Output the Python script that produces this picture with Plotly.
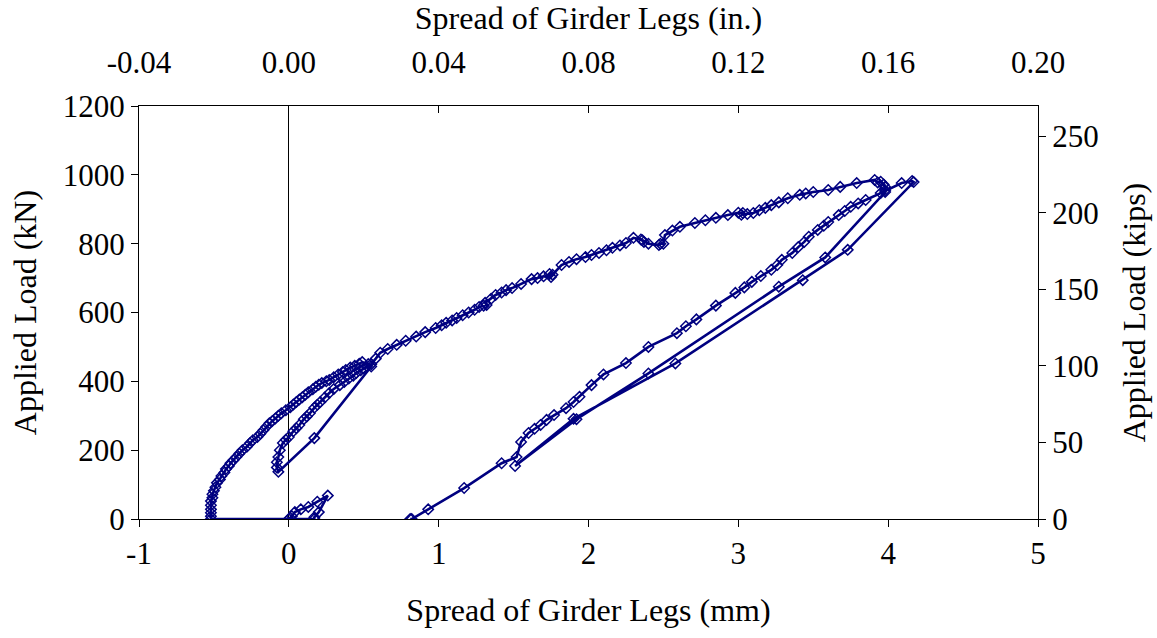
import plotly.graph_objects as go

# Spread of girder legs (mm) and applied load (kN), in test order
spread_mm = [
    0.00, 0.02, 0.04, 0.08, 0.13, 0.19, 0.26, 0.20, 0.17, 0.17, 0.00,
    -0.52, -0.52, -0.52, -0.52, -0.52, -0.52, -0.51, -0.51, -0.50, -0.49, -0.48,
    -0.46, -0.45, -0.43, -0.42, -0.40, -0.39, -0.37, -0.35, -0.33, -0.31, -0.28,
    -0.26, -0.24, -0.21, -0.19, -0.17, -0.15, -0.13, -0.11, -0.09, -0.07, -0.05,
    -0.02, 0.01, 0.03, 0.05, 0.07, 0.09, 0.11, 0.13, 0.16, 0.18, 0.20, 0.22,
    0.25, 0.27, 0.30, 0.33, 0.36, 0.38, 0.41, 0.44, 0.47, 0.49, 0.53, 0.55,
    0.17, -0.07,
    -0.08, -0.08, -0.07, -0.06, -0.04, -0.02, 0.00, 0.03, 0.05, 0.07, 0.10,
    0.12, 0.14, 0.17, 0.19, 0.21, 0.24, 0.27, 0.30, 0.34, 0.37, 0.40, 0.43,
    0.45, 0.48, 0.50, 0.55,
    0.58, 0.61, 0.66, 0.72, 0.78, 0.85, 0.91, 0.98, 1.02, 1.05, 1.09, 1.12,
    1.16, 1.20, 1.24, 1.27, 1.30, 1.32, 1.31, 1.35, 1.38, 1.42, 1.45, 1.49,
    1.55, 1.62, 1.66, 1.70, 1.75, 1.74, 1.76, 1.82, 1.87, 1.92, 1.98, 2.02,
    2.07, 2.12, 2.16, 2.21, 2.25, 2.30, 2.35, 2.37, 2.36, 2.40, 2.47, 2.48,
    2.50, 2.51, 2.56, 2.61, 2.71, 2.78, 2.85, 2.93, 3.00, 3.03, 3.02, 3.06,
    3.10, 3.14, 3.18, 3.22, 3.27, 3.33, 3.41, 3.45, 3.50, 3.60, 3.68, 3.79,
    3.91, 3.93, 3.95, 3.97, 3.98, 3.98,
    3.58, 3.27, 2.40, 1.92, 1.51,
    1.90, 2.58, 3.43, 3.73, 4.17, 4.16,
    4.09, 3.98, 3.95, 3.85, 3.80, 3.75, 3.71, 3.67, 3.60, 3.57, 3.53, 3.47,
    3.44, 3.40, 3.36, 3.29, 3.26, 3.22, 3.15, 3.09, 3.04, 2.98, 2.85, 2.72,
    2.65, 2.59, 2.40, 2.25, 2.10, 2.02, 1.94, 1.90, 1.85, 1.77, 1.72, 1.68,
    1.64, 1.60, 1.55, 1.52, 1.42, 1.17, 0.93, 0.82, 0.81,
]
load_kn = [
    0, 8, 20, 28, 35, 50, 68, 20, 5, 0, 0,
    0, 8, 18, 28, 40, 52, 62, 72, 82, 92, 105,
    115, 125, 135, 145, 154, 162, 171, 180, 190, 200, 210,
    220, 229, 238, 248, 258, 268, 278, 285, 292, 300, 307,
    316, 325, 333, 340, 347, 354, 361, 368, 377, 384, 390, 395,
    400, 404, 412, 420, 427, 433, 440, 445, 451, 456, 450, 443,
    235, 137,
    150, 165, 180, 200, 221, 230, 238, 255, 264, 273, 290,
    298, 307, 323, 332, 340, 353, 366, 378, 389, 398, 408, 416,
    424, 432, 438, 450,
    466, 483, 494, 506, 518, 530, 543, 555, 563, 570, 577, 584,
    592, 600, 608, 616, 620, 622, 628, 640, 651, 658, 665, 671,
    683, 697, 700, 705, 703, 712, 710, 738, 747, 755, 761, 767,
    773, 781, 788, 795, 802, 817, 812, 805, 810, 800, 796, 800,
    800, 825, 838, 849, 860, 868, 875, 883, 890, 889, 884, 886,
    889, 897, 904, 912, 920, 932, 942, 946, 950, 956, 965, 976,
    985, 978, 980, 972, 965, 950,
    760, 675, 423, 290, 154,
    291, 452, 694, 782, 979, 982,
    976, 955, 947, 927, 917, 907, 895, 883, 863, 852, 840, 820,
    805, 790, 773, 753, 738, 724, 706, 689, 673, 657, 620, 580,
    560, 540, 500, 453, 420, 389, 355, 340, 322, 302, 288, 273,
    262, 250, 224, 180, 162, 90, 28, 0, 0,
]

x_ticks_mm = [-1, 0, 1, 2, 3, 4, 5]
x_ticks_in = [-0.04, 0.00, 0.04, 0.08, 0.12, 0.16, 0.20]
y_ticks_kn = [0, 200, 400, 600, 800, 1000, 1200]
y_ticks_kips = [0, 50, 100, 150, 200, 250]

KN_PER_KIP = 4.448222

navy = "#000080"
font_family = "Liberation Serif, Times New Roman, serif"
tick_font = dict(family=font_family, size=31, color="black")
title_font = dict(family=font_family, size=32, color="black")

fig = go.Figure()
fig.add_trace(go.Scatter(
    x=spread_mm, y=load_kn, mode="lines+markers",
    line=dict(color=navy, width=2.6),
    marker=dict(symbol="diamond-open", size=8, color=navy, line=dict(width=1.5, color=navy)),
    showlegend=False, hoverinfo="x+y",
))

axis_common = dict(showgrid=False, showline=True, linecolor="black", linewidth=1,
                   tickcolor="black", tickwidth=1, tickfont=tick_font)

fig.update_layout(
    width=1157, height=638,
    margin=dict(l=139, r=116, t=106, b=119),
    paper_bgcolor="white", plot_bgcolor="white",
    font=dict(family=font_family, color="black"),
    xaxis=dict(range=[-1, 5], tickvals=x_ticks_mm,
               ticktext=[str(v) for v in x_ticks_mm],
               ticks="outside", ticklen=7,
               zeroline=True, zerolinecolor="black", zerolinewidth=1,
               title=dict(text="Spread of Girder Legs (mm)", font=title_font, standoff=28),
               **axis_common),
    xaxis2=dict(range=[-0.04, 0.20], tickvals=x_ticks_in,
                ticktext=[f"{v:.2f}" for v in x_ticks_in],
                overlaying="x", side="top", ticks="inside", ticklen=7, zeroline=False,
                ticklabelstandoff=20,
                title=dict(text="Spread of Girder Legs (in.)", font=title_font, standoff=8),
                **axis_common),
    yaxis=dict(range=[0, 1200], tickvals=y_ticks_kn, ticks="outside", ticklen=7,
               zeroline=False,
               title=dict(text="Applied Load (kN)", font=title_font, standoff=16),
               **axis_common),
    yaxis2=dict(range=[0, 1200 / KN_PER_KIP], tickvals=y_ticks_kips, overlaying="y",
                side="right", ticks="outside", ticklen=7, zeroline=False,
                title=dict(text="Applied Load (kips)", font=title_font, standoff=24),
                **axis_common),
)

# same data in inches / kips on the secondary axes (invisible), so those axes are drawn
fig.add_trace(go.Scatter(
    x=[v / 25.4 for v in spread_mm], y=[v / KN_PER_KIP for v in load_kn],
    xaxis="x2", yaxis="y2", mode="lines", opacity=0, showlegend=False, hoverinfo="skip",
))

fig.write_html("out.html")
